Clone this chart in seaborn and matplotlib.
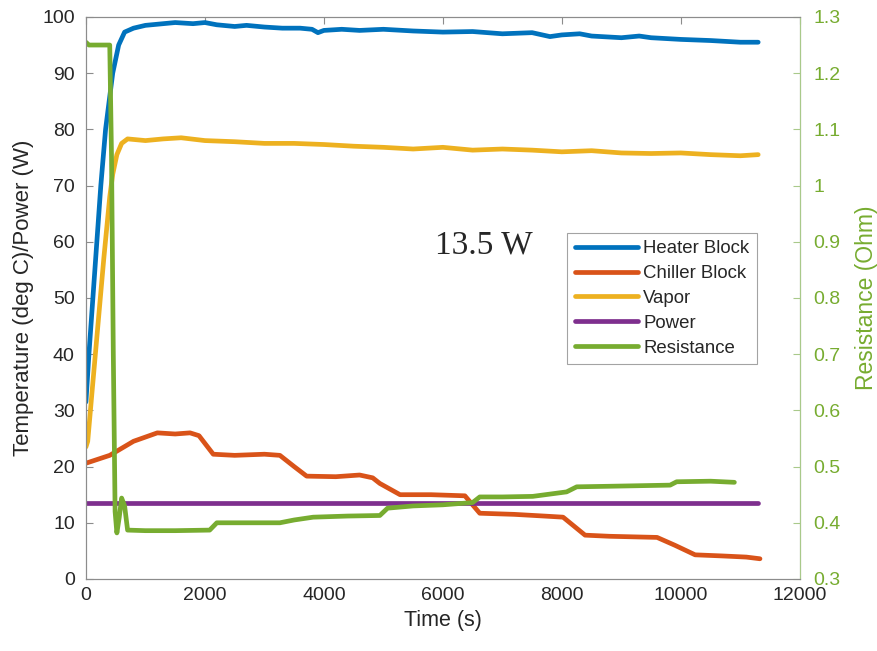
import numpy as np
import pandas as pd
import matplotlib
matplotlib.use("Agg")
import matplotlib.pyplot as plt
import seaborn as sns

# ---------------- data ----------------
heater_t = [0, 50, 150, 250, 330, 450, 550, 650, 800, 1000, 1200, 1500, 1800, 2000,
            2200, 2500, 2700, 3000, 3300, 3600, 3800, 3900, 4000, 4300, 4600, 5000,
            5500, 6000, 6500, 7000, 7500, 7800, 8000, 8300, 8500, 9000, 9300, 9500,
            10000, 10500, 11000, 11300]
heater_v = [31.5, 40, 55, 70, 80, 90, 95, 97.3, 98, 98.5, 98.7, 99, 98.8, 99,
            98.6, 98.3, 98.5, 98.2, 98, 98, 97.8, 97.2, 97.6, 97.8, 97.6, 97.8,
            97.5, 97.3, 97.4, 97, 97.2, 96.5, 96.8, 97, 96.6, 96.3, 96.6, 96.3,
            96, 95.8, 95.5, 95.5]

vapor_t = [0, 30, 100, 200, 300, 400, 450, 520, 600, 700, 1000, 1300, 1600, 2000, 2500,
           3000, 3500, 4000, 4500, 5000, 5500, 6000, 6500, 7000, 7500, 8000, 8500,
           9000, 9500, 10000, 10500, 11000, 11300]
vapor_v = [23.5, 24.5, 33, 45, 57, 68, 72, 75.5, 77.5, 78.3, 78, 78.3, 78.5, 78, 77.8,
           77.5, 77.5, 77.3, 77, 76.8, 76.5, 76.8, 76.3, 76.5, 76.3, 76, 76.2,
           75.8, 75.7, 75.8, 75.5, 75.3, 75.5]

chiller_t = [0, 400, 800, 1200, 1500, 1750, 1900, 2140, 2500, 3000, 3260, 3500, 3710,
             4200, 4600, 4820, 4940, 5280, 5800, 6370, 6620, 7200, 7700, 8020, 8390,
             8800, 9200, 9600, 9900, 10240, 10700, 11100, 11330]
chiller_v = [20.6, 22, 24.5, 26, 25.8, 26, 25.5, 22.2, 22, 22.2, 22, 20, 18.3,
             18.2, 18.5, 18, 17, 15, 15, 14.8, 11.7, 11.5, 11.2, 11, 7.8,
             7.6, 7.5, 7.4, 6, 4.3, 4.1, 3.9, 3.6]

power_t = [0, 11300]
power_v = [13.5, 13.5]

resist_t = [0, 50, 150, 400, 430, 460, 490, 520, 560, 600, 650, 700, 1000, 1500, 2080,
            2200, 2600, 3260, 3500, 3820, 4400, 4940, 5070, 5500, 6000, 6500, 6620,
            7000, 7510, 8080, 8250, 8800, 9820, 9930, 10500, 10900]
resist_v = [1.255, 1.25, 1.25, 1.25, 1.05, 0.7, 0.42, 0.382, 0.41, 0.444, 0.43, 0.387,
            0.386, 0.386, 0.387, 0.40, 0.40, 0.40, 0.405, 0.41, 0.412, 0.413, 0.426,
            0.43, 0.432, 0.436, 0.446, 0.446, 0.447, 0.455, 0.464, 0.465, 0.467,
            0.473, 0.474, 0.472]

colors = {"Heater Block": "#0072BD", "Chiller Block": "#D95319", "Vapor": "#EDB120",
          "Power": "#7E2F8E", "Resistance": "#77AC30"}

# ---------------- figure ----------------
sns.set_style("white")
plt.rcParams['font.family'] = ['Liberation Sans', 'DejaVu Sans']

fig = plt.figure(figsize=(8.77, 6.51), dpi=100)
ax = fig.add_axes([0.098, 0.1106, 0.814, 0.8634])
ax2 = ax.twinx()

lw = 3.4
sns.lineplot(x=heater_t, y=heater_v, ax=ax, color=colors["Heater Block"], lw=lw,
             label="Heater Block", legend=False)
sns.lineplot(x=chiller_t, y=chiller_v, ax=ax, color=colors["Chiller Block"], lw=lw,
             label="Chiller Block", legend=False)
sns.lineplot(x=vapor_t, y=vapor_v, ax=ax, color=colors["Vapor"], lw=lw,
             label="Vapor", legend=False)
sns.lineplot(x=power_t, y=power_v, ax=ax, color=colors["Power"], lw=lw,
             label="Power", legend=False)
sns.lineplot(x=resist_t, y=resist_v, ax=ax2, color=colors["Resistance"], lw=lw,
             label="Resistance", legend=False)

ax.set_xlim(0, 12000)
ax.set_ylim(0, 100)
ax2.set_ylim(0.3, 1.3)
ax.set_xticks(np.arange(0, 12001, 2000))
ax.set_yticks(np.arange(0, 101, 10))
rticks = np.round(np.arange(0.3, 1.31, 0.1), 1)
ax2.set_yticks(rticks)
ax2.set_yticklabels([f"{v:g}" for v in rticks])

for a in (ax, ax2):
    for s in a.spines.values():
        s.set_color("#8c8c8c")
        s.set_linewidth(0.8)
ax2.spines["right"].set_color("#a9c98a")

ax.tick_params(axis="both", direction="in", length=5, labelsize=14, color="#8c8c8c",
               top=True, labelcolor="#262626")
ax.tick_params(axis="x", pad=6)
ax.tick_params(axis="y", pad=8)
ax2.tick_params(axis="y", direction="in", length=5, labelsize=14, color="#a9c98a",
                labelcolor=colors["Resistance"], pad=10)

ax.set_xlabel("Time (s)", fontsize=15.5, color="#262626", labelpad=4)
ax.set_ylabel("Temperature (deg C)/Power (W)", fontsize=16, color="#262626", labelpad=6)
ax2.set_ylabel("Resistance (Ohm)", fontsize=16.5, color=colors["Resistance"], labelpad=10)

ax.text(0.557, 0.593, "13.5 W", transform=ax.transAxes, fontsize=24,
        family="Liberation Serif", ha="center", va="center")

h1, l1 = ax.get_legend_handles_labels()
h2, l2 = ax2.get_legend_handles_labels()
leg = ax2.legend(h1 + h2, l1 + l2, loc="upper left", bbox_to_anchor=(0.674, 0.616),
                 fontsize=13.4, frameon=True, fancybox=False, handlelength=3.4,
                 handletextpad=0.3, borderpad=0.4, labelspacing=0.42,
                 borderaxespad=0)
leg.get_frame().set_edgecolor("#8c8c8c")
leg.get_frame().set_linewidth(0.8)

fig.savefig("out.png", dpi=100)
